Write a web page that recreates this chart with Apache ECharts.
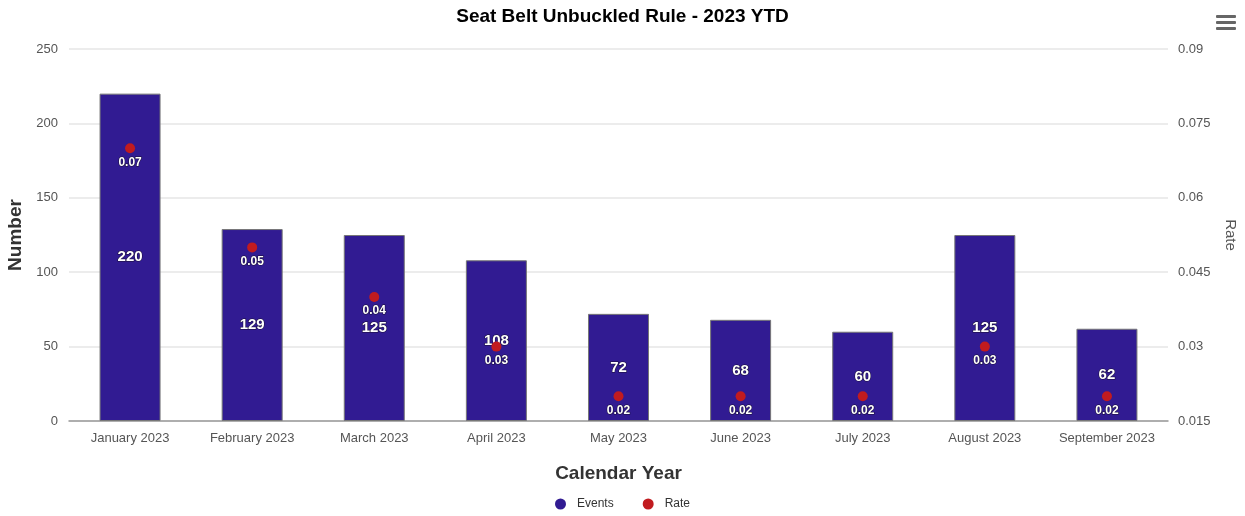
<!DOCTYPE html>
<html>
<head>
    <meta charset="utf-8">
    <title>Seat Belt Unbuckled Rule - 2023 YTD</title>
    <script src="https://cdn.jsdelivr.net/npm/echarts@6/dist/echarts.min.js"></script>
    <style>
        html, body { margin: 0; padding: 0; background: #fff; }
        #main { width: 1245px; height: 516px; }
    </style>
</head>
<body>
    <div id="main"></div>
    <script>
        var months = ['January 2023', 'February 2023', 'March 2023', 'April 2023', 'May 2023',
            'June 2023', 'July 2023', 'August 2023', 'September 2023'];
        var events = [220, 129, 125, 108, 72, 68, 60, 125, 62];
        var rates = [0.07, 0.05, 0.04, 0.03, 0.02, 0.02, 0.02, 0.03, 0.02];

        var myChart = echarts.init(document.getElementById('main'));

        var option = {
            animation: false,
            textStyle: { fontFamily: 'Liberation Sans, Arial, sans-serif' },
            title: {
                text: 'Seat Belt Unbuckled Rule - 2023 YTD',
                left: 'center',
                top: 2,
                textStyle: { fontSize: 19, fontWeight: 'bold', color: '#000' }
            },
            legend: {
                bottom: 1,
                left: 'center',
                itemGap: 29,
                itemWidth: 11,
                itemHeight: 11,
                icon: 'circle',
                itemStyle: { borderWidth: 0 },
                textStyle: { fontSize: 12, color: '#333', padding: [0, 0, 0, 6] },
                data: ['Events', 'Rate']
            },
            graphic: [
                { type: 'rect', right: 9, top: 15, shape: { width: 20, height: 3, r: 1 }, style: { fill: '#666' } },
                { type: 'rect', right: 9, top: 21, shape: { width: 20, height: 3, r: 1 }, style: { fill: '#666' } },
                { type: 'rect', right: 9, top: 27, shape: { width: 20, height: 3, r: 1 }, style: { fill: '#666' } }
            ],
            grid: { left: 69, right: 77, top: 49, bottom: 95, outerBoundsMode: 'none' },
            xAxis: {
                type: 'category',
                data: months,
                name: 'Calendar Year',
                nameLocation: 'middle',
                nameGap: 43,
                nameTextStyle: { fontSize: 19, fontWeight: 'bold', color: '#333' },
                axisTick: { show: false },
                axisLine: { lineStyle: { color: '#999', width: 1.5 } },
                axisLabel: { interval: 0, hideOverlap: false, fontSize: 13, color: '#555', margin: 11 }
            },
            yAxis: [{
                type: 'value',
                min: 0,
                max: 250,
                interval: 50,
                name: 'Number',
                nameLocation: 'middle',
                nameGap: 41,
                nameTextStyle: { fontSize: 19, fontWeight: 'bold', color: '#333' },
                axisLabel: { fontSize: 13, color: '#555', margin: 11 },
                splitLine: { lineStyle: { color: '#e6e6e6', width: 1.5 } }
            }, {
                type: 'value',
                min: 0.015,
                max: 0.09,
                interval: 0.015,
                position: 'right',
                name: 'Rate',
                nameLocation: 'middle',
                nameGap: 55,
                nameRotate: -90,
                nameTextStyle: { fontSize: 15, color: '#555' },
                axisLabel: {
                    fontSize: 13, color: '#555', margin: 10,
                    formatter: function (v) { return String(parseFloat(v.toFixed(3))); }
                },
                splitLine: { show: false }
            }],
            series: [{
                name: 'Events',
                type: 'bar',
                yAxisIndex: 0,
                barWidth: 61,
                data: events,
                itemStyle: { color: '#311b92', borderColor: '#777', borderWidth: 1 },
                label: {
                    show: true,
                    position: 'inside',
                    fontSize: 15,
                    fontWeight: 'bold',
                    color: '#fff',
                    textBorderColor: '#1a1030',
                    textBorderWidth: 1
                },
                z: 2
            }, {
                name: 'Rate',
                type: 'scatter',
                yAxisIndex: 1,
                symbolSize: 10,
                data: rates,
                itemStyle: { color: '#c11b1f', opacity: 1 },
                label: {
                    show: true,
                    position: 'bottom',
                    distance: 3,
                    fontSize: 12,
                    fontWeight: 'bold',
                    color: '#fff',
                    textBorderColor: '#1a1030',
                    textBorderWidth: 1
                },
                z: 3
            }]
        };

        myChart.setOption(option);

        window.onresize = function () {
            myChart.resize();
        };
    </script>
</body>
</html>
